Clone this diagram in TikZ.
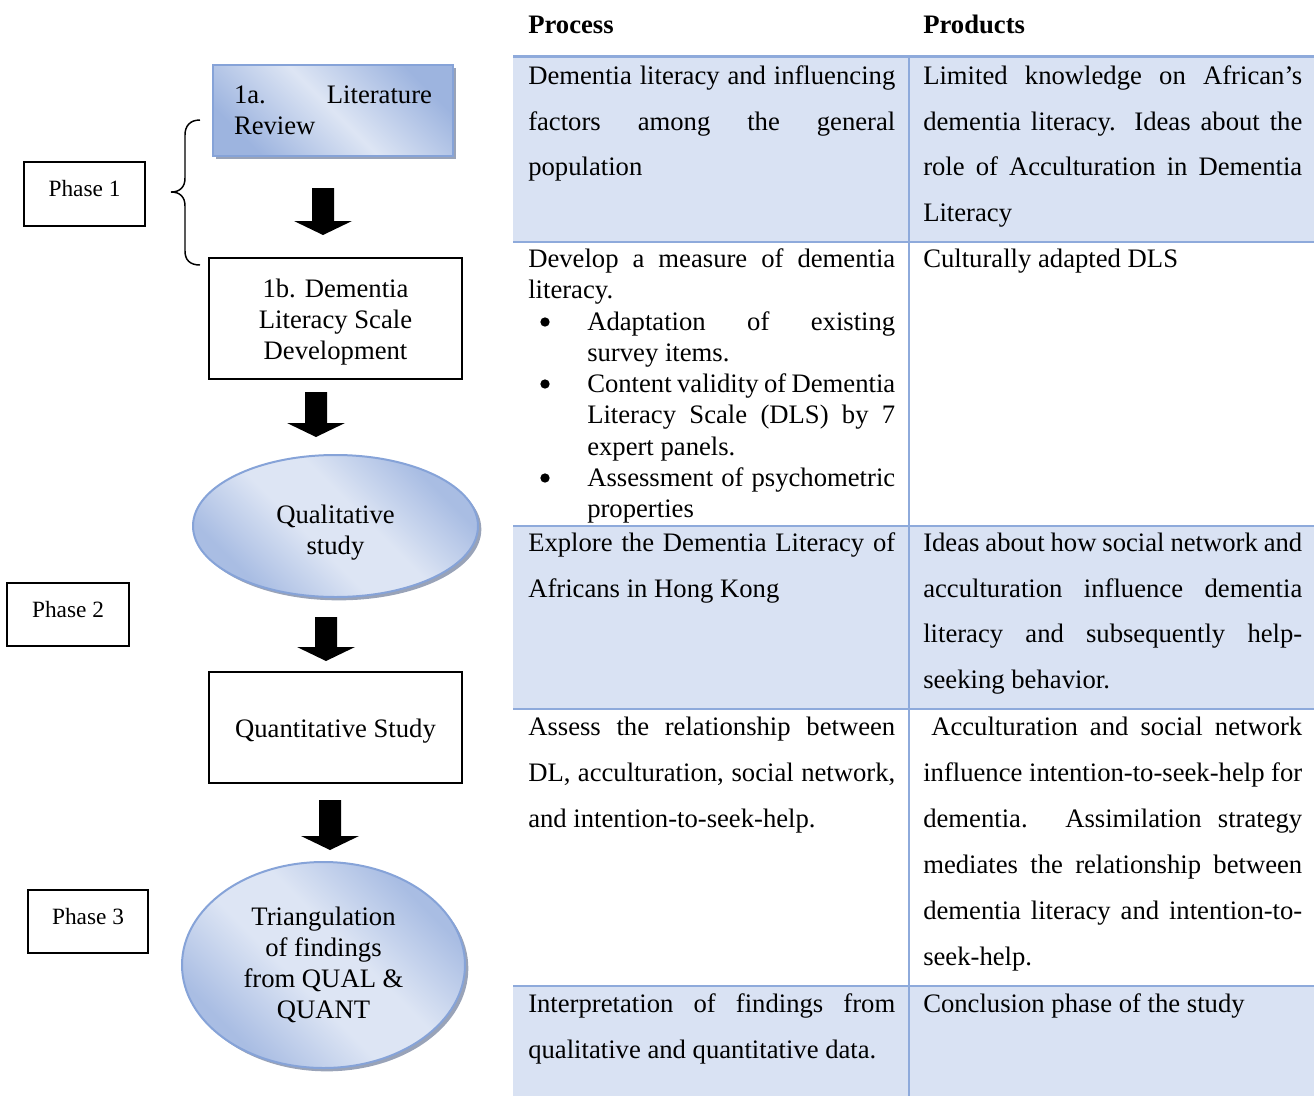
\documentclass[tikz,border=0pt]{standalone}
\usepackage{fontspec}
\setmainfont{Liberation Serif}
\usetikzlibrary{calc,shapes.geometric,shadows}

\definecolor{cellblue}{HTML}{D9E2F3}
\definecolor{rulblue}{HTML}{8EAADB}
\definecolor{sbdark}{HTML}{9DB4DF}
\definecolor{sblight}{HTML}{DDE5F4}
\definecolor{ebdark}{HTML}{A9BDE3}
\definecolor{edgeblue}{HTML}{86A3D8}
\definecolor{shadowgray}{HTML}{8E99B0}

% diagonal soft gradients used by the blue shapes
\pgfdeclarehorizontalshading{softblue}{100bp}{color(0bp)=(sbdark); color(25bp)=(sbdark); color(50bp)=(sblight); color(75bp)=(sbdark); color(100bp)=(sbdark)}
\pgfdeclarehorizontalshading{softoval}{100bp}{color(0bp)=(ebdark); color(27bp)=(ebdark); color(44bp)=(sblight); color(56bp)=(sblight); color(73bp)=(ebdark); color(100bp)=(ebdark)}

% justified single lines for the table columns
\newcommand\JL[1]{\makebox[275.25pt][s]{#1}}
\newcommand\JR[1]{\makebox[284.25pt][s]{#1}}
\newcommand\JB[1]{\makebox[231pt][s]{#1}}
% invisible struts that nudge centred text down (height) or up (depth)
\newcommand\nudgedown[1]{\rule{0pt}{#1}}
\newcommand\nudgeup[1]{\rule[-#1]{0pt}{0pt}}

% black block arrow pointing down: #1 top centre, #2 tip
\newcommand\blockdown[2]{%
  \fill[black] ($(#1)+(-11,0)$) -- ($(#1)+(11,0)$) -- ($(#2)+(11,-14)$) -- ($(#2)+(29,-14)$)
    -- (#2) -- ($(#2)+(-29,-14)$) -- ($(#2)+(-11,-14)$) -- cycle;}

\begin{document}
\begin{tikzpicture}[x=0.75pt,y=-0.75pt,
  cell/.style={anchor=base west, inner sep=0pt, font=\fontsize{20}{24}\selectfont},
  phasebox/.style={draw=black, line width=1.5pt, inner sep=0pt, font=\fontsize{17.5}{21}\selectfont},
  flowbox/.style={draw=black, line width=1.5pt, inner sep=0pt, align=center, font=\fontsize{20}{23.25}\selectfont},
  softshape/.style={draw=edgeblue, line width=1.5pt, shading=softblue, shading angle=45, inner sep=0pt,
    align=center, font=\fontsize{20}{23.25}\selectfont,
    drop shadow={shadow xshift=2.5pt, shadow yshift=-2.5pt, fill=shadowgray, opacity=0.9}},
  softoval/.style={softshape, ellipse, shading=softoval},
  bulletdot/.style={circle, fill=black, inner sep=0pt, minimum size=7pt}]
\useasboundingbox (0,0) rectangle (1314,1096);

% ---------- table ----------
\fill[cellblue] (513,58) rectangle (1314,242);
\fill[cellblue] (513,526) rectangle (1314,709);
\fill[cellblue] (513,986) rectangle (1314,1096);
\draw[rulblue, line width=2.4pt] (513,56.5) -- (1314,56.5);
\foreach \yy in {242,526,709,986}
  \draw[rulblue, line width=1pt] (513,\yy) -- (1314,\yy);
\draw[rulblue, line width=1pt] (909,58) -- (909,1096);

\node[cell] (hproc) at (528,33) {\bfseries Process};
\node[cell] (hprod) at (923,33) {\bfseries Products};

% row 1
\node[cell] (p1a) at (528,84) {\JL{Dementia literacy and influencing}};
\node[cell] (p1b) at (528,130) {\JL{factors among the general}};
\node[cell] (p1c) at (528,175) {population};
\node[cell] (q1a) at (923,84) {\JR{Limited knowledge on African’s}};
\node[cell] (q1b) at (923,130) {\JR{dementia literacy. Ideas about the}};
\node[cell] (q1c) at (923,175) {\JR{role of Acculturation in Dementia}};
\node[cell] (q1d) at (923,221) {Literacy};

% row 2
\node[cell] (p2a) at (528,267) {\JL{Develop a measure of dementia}};
\node[cell] (p2b) at (528,298) {literacy.};
\node[bulletdot] (b1) at (545,322) {};
\node[cell] (p2c) at (587,330) {\JB{Adaptation of existing}};
\node[cell] (p2d) at (587,361) {survey items.};
\node[bulletdot] (b2) at (545,384) {};
\node[cell] (p2e) at (587,392) {\JB{Content validity of Dementia}};
\node[cell] (p2f) at (587,423) {\JB{Literacy Scale (DLS) by 7}};
\node[cell] (p2g) at (587,455) {expert panels.};
\node[bulletdot] (b3) at (545,478) {};
\node[cell] (p2h) at (587,486) {\JB{Assessment of psychometric}};
\node[cell] (p2i) at (587,517) {properties};
\node[cell] (q2a) at (923,267) {Culturally adapted DLS};

% row 3
\node[cell] (p3a) at (528,551) {\JL{Explore the Dementia Literacy of}};
\node[cell] (p3b) at (528,597) {Africans in Hong Kong};
\node[cell] (q3a) at (923,551) {\JR{Ideas about how social network and}};
\node[cell] (q3b) at (923,597) {\JR{acculturation influence dementia}};
\node[cell] (q3c) at (923,642) {\JR{literacy and subsequently help-}};
\node[cell] (q3d) at (923,688) {seeking behavior.};

% row 4
\node[cell] (p4a) at (528,735) {\JL{Assess the relationship between}};
\node[cell] (p4b) at (528,781) {\JL{DL, acculturation, social network,}};
\node[cell] (p4c) at (528,827) {and intention-to-seek-help.};
\node[cell] (q4a) at (931,735) {\makebox[278.25pt][s]{Acculturation and social network}};
\node[cell] (q4b) at (923,781) {\JR{influence intention-to-seek-help for}};
\node[cell] (q4c) at (923,827) {\JR{dementia. Assimilation strategy}};
\node[cell] (q4d) at (923,873) {\JR{mediates the relationship between}};
\node[cell] (q4e) at (923,919) {\JR{dementia literacy and intention-to-}};
\node[cell] (q4f) at (923,965) {seek-help.};

% row 5
\node[cell] (p5a) at (528,1012) {\JL{Interpretation of findings from}};
\node[cell] (p5b) at (528,1058) {qualitative and quantitative data.};
\node[cell] (q5a) at (923,1012) {Conclusion phase of the study};

% ---------- flow chart ----------
\node[phasebox, minimum width=90.75pt, minimum height=48pt] (ph1) at (84.5,194) {Phase 1\nudgeup{8pt}};
\node[phasebox, minimum width=91.5pt, minimum height=47.25pt] (ph2) at (68,614.5) {Phase 2\nudgeup{7pt}};
\node[phasebox, minimum width=90pt, minimum height=47.25pt] (ph3) at (88,921.5) {Phase 3\nudgeup{7pt}};

% brace grouping the two phase-1 steps
\draw[line width=1.1pt] (200,120) .. controls (190,120) and (185,126) .. (185,135) -- (185,178)
  .. controls (185,187) and (180,192) .. (171,192) .. controls (180,192) and (185,197) .. (185,206)
  -- (185,251) .. controls (185,260) and (190,265) .. (200,265);

\node[softshape, rectangle, minimum width=180pt, minimum height=68.25pt, align=left] (lit) at (333,110.5)
  {\makebox[148.5pt][s]{1a. Literature}\\Review};
\node[flowbox, minimum width=189.75pt, minimum height=90.75pt] (dls) at (335.5,318.5)
  {\nudgedown{19pt}1b. Dementia\\Literacy Scale\\Development};
\node[softoval, minimum width=213.75pt, minimum height=106.5pt] (qual) at (335.5,526)
  {\nudgedown{24pt}Qualitative\\study};
\node[flowbox, minimum width=189.75pt, minimum height=83.25pt] (quant) at (335.5,727.5)
  {\nudgedown{19pt}Quantitative Study};
\node[softoval, minimum width=212.25pt, minimum height=154.5pt] (tri) at (323.5,965)
  {Triangulation\\of findings\\from QUAL \&\\QUANT};

% block arrows between the steps
\coordinate (a1s) at (323,188);  \coordinate (a1e) at (323,235);
\coordinate (a2s) at (316,392);  \coordinate (a2e) at (316,437);
\coordinate (a3s) at (326,617);  \coordinate (a3e) at (326,661);
\coordinate (a4s) at (330,800);  \coordinate (a4e) at (330,850);
\blockdown{a1s}{a1e}
\blockdown{a2s}{a2e}
\blockdown{a3s}{a3e}
\blockdown{a4s}{a4e}
\end{tikzpicture}
\end{document}
